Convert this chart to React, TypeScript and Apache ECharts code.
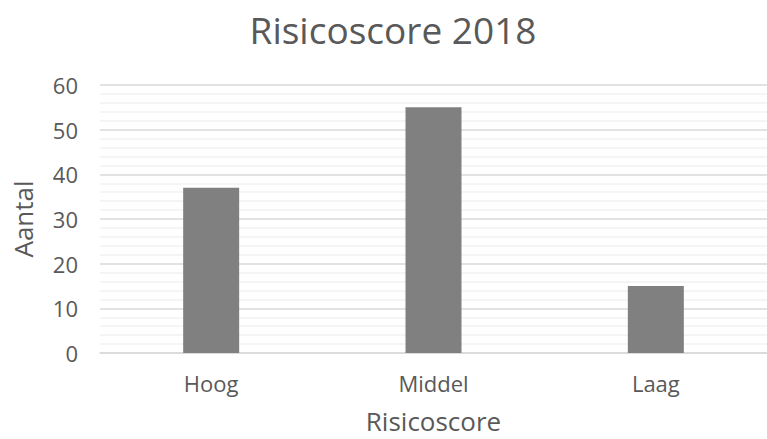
import React, { useEffect, useRef } from "react";
import * as echarts from "echarts";

const categories = ["Hoog", "Middel", "Laag"];
const counts = [37, 55, 15];
const titleText = "Risicoscore 2018";
const xName = "Risicoscore";
const yName = "Aantal";

const FONT = "'Open Sans', 'Noto Sans', sans-serif";
const TEXT = "#595959";

export default function App() {
  const ref = useRef<HTMLDivElement>(null);
  useEffect(() => {
    document.body.style.margin = "0";
    const chart = echarts.init(ref.current!, undefined, { renderer: "svg" });
    chart.setOption({
      animation: false,
      backgroundColor: "#ffffff",
      title: {
        text: titleText,
        left: 388,
        textAlign: "center",
        top: 6,
        textStyle: { color: TEXT, fontFamily: FONT, fontSize: 37, fontWeight: "normal" },
      },
      grid: { left: 100, right: -5, top: 85, bottom: 82, containLabel: false },
      xAxis: {
        type: "category",
        data: categories,
        name: xName,
        nameLocation: "middle",
        nameGap: 55,
        nameTextStyle: { color: TEXT, fontFamily: FONT, fontSize: 26 },
        axisLine: { show: true, lineStyle: { color: "#d9d9d9", width: 1.5 } },
        axisTick: { show: false },
        axisLabel: { color: TEXT, fontFamily: FONT, fontSize: 22, margin: 19 },
      },
      yAxis: {
        type: "value",
        min: 0,
        max: 60,
        interval: 10,
        name: yName,
        nameLocation: "middle",
        nameGap: 64,
        nameRotate: 90,
        nameTextStyle: { color: TEXT, fontFamily: FONT, fontSize: 26 },
        axisLine: { show: false },
        axisTick: { show: false },
        axisLabel: { color: TEXT, fontFamily: FONT, fontSize: 22, margin: 22 },
        splitLine: { show: true, lineStyle: { color: "#d9d9d9", width: 1.5 } },
        minorTick: { show: false, splitNumber: 5 },
        minorSplitLine: { show: true, lineStyle: { color: "#f2f2f2", width: 1.5 } },
      },
      series: [
        {
          type: "bar",
          data: counts,
          barWidth: 56,
          itemStyle: { color: "#808080" },
        },
      ],
    });
    return () => chart.dispose();
  }, []);
  return <div ref={ref} style={{ width: 767, height: 439 }} />;
}
